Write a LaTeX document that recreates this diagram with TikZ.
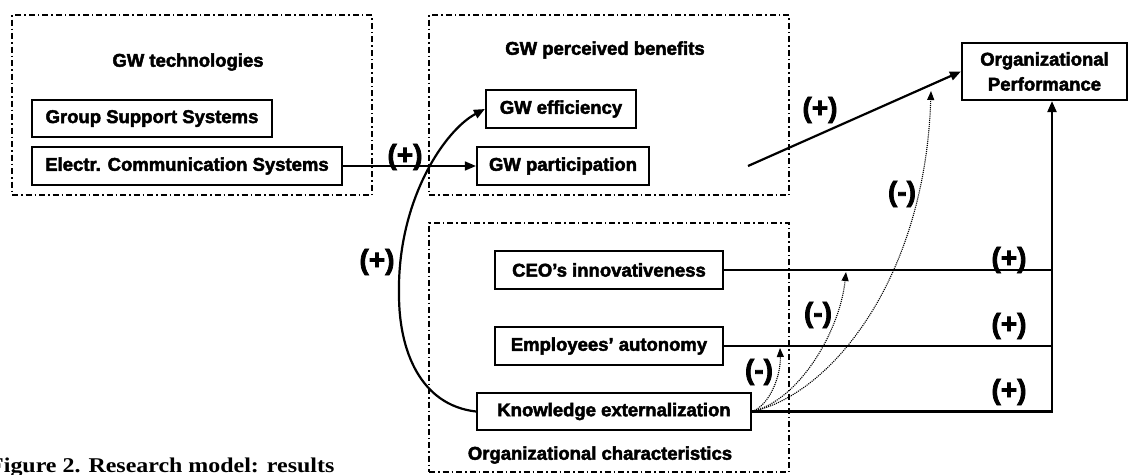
\documentclass[tikz,border=0pt]{standalone}
\usepackage{fontspec}
\setmainfont{Liberation Sans}[BoldFeatures={FakeBold=2.5}]
\newfontfamily\capfont{Liberation Serif}
\usetikzlibrary{arrows.meta}
\begin{document}
\begin{tikzpicture}[x=1pt,y=-1pt,
  box/.style={draw,line width=2.2pt,minimum height=38pt,inner sep=0pt,font=\fontsize{18.5}{20}\selectfont\bfseries},
  grp/.style={draw,line width=1.8pt,dash pattern=on 6pt off 3pt on 1.5pt off 3pt,inner sep=0pt},
  ttl/.style={font=\fontsize{18.5}{20}\selectfont\bfseries,inner sep=0pt},
  sgn/.style={font=\fontsize{28}{30}\selectfont\bfseries,inner sep=0pt},
  link/.style={line width=2.2pt},
  arr/.style={link,-{Triangle[length=11pt,width=9pt]}},
  mod/.style={line width=1.1pt,densely dotted,-{Triangle[length=9pt,width=7pt]}}]
\useasboundingbox (0,0) rectangle (1130,474);
% group frames
\node[grp,minimum width=360pt,minimum height=180pt] (gwt) at (192,105) {};
\node[grp,minimum width=360pt,minimum height=180pt] (gwb) at (609,105) {};
\node[grp,minimum width=360pt,minimum height=249pt] (oc) at (609,347.5) {};
\node[ttl] (tgwt) at (188,62) {GW technologies};
\node[ttl] (tgwb) at (605,50) {GW perceived benefits};
\node[ttl] (toc) at (600,455) {Organizational characteristics};
% boxes
\node[box,minimum width=240pt,minimum height=37pt] (gss) at (152,118.5) {Group Support Systems};
\node[box,minimum width=310pt] (ecs) at (187,166) {Electr. Communication Systems};
\node[box,minimum width=150pt] (gwe) at (561,109) {GW efficiency};
\node[box,minimum width=172pt] (gwp) at (563,166) {GW participation};
\node[box,minimum width=228pt] (ceo) at (609,270) {CEO's innovativeness};
\node[box,minimum width=228pt] (ea) at (609,346) {Employees' autonomy};
\node[box,minimum width=274pt,minimum height=37pt] (ke) at (614,411.5) {Knowledge externalization};
\node[box,minimum width=165pt,minimum height=57pt,align=center,font=\fontsize{18.5}{25}\selectfont\bfseries] (op) at (1044.5,71.5) {Organizational\\Performance};
% connectors
\draw[arr,line width=1.6pt] (ecs.east) -- (gwp.west);
\draw[arr] (ke.west) .. controls (420,405) and (399,350) .. (399,295) .. controls (397,200) and (445,130) .. (gwe.west);
\coordinate (bs) at (748,166);
\draw[arr] (bs) -- (op.west);
\coordinate (kej) at (1052,411.5);
\draw[arr] (ke.east) -- (kej) -- (kej |- op.south);
\draw[link] (ceo.east) -- (ceo.east -| kej);
\draw[link] (ea.east) -- (ea.east -| kej);
% moderating effects
\coordinate (m1) at (780,348);
\coordinate (m2) at (846,272);
\coordinate (m3) at (931,91);
\draw[mod] (ke.east) .. controls (770,405) and (781,375) .. (m1);
\draw[mod] (ke.east) .. controls (800,400) and (840,330) .. (m2);
\draw[mod] (ke.east) .. controls (830,395) and (925,280) .. (m3);
% signs
\node[sgn] (s1) at (405,157) {(+)};
\node[sgn] (s2) at (377,262) {(+)};
\node[sgn] (s3) at (820,110) {(+)};
\node[sgn] (s4) at (1009,260) {(+)};
\node[sgn] (s5) at (1009,326) {(+)};
\node[sgn] (s6) at (1009,392) {(+)};
\node[sgn] (n1) at (759,372) {(-)};
\node[sgn] (n2) at (818,315) {(-)};
\node[sgn] (n3) at (902,194) {(-)};
% caption
\node[anchor=base west,inner sep=0pt,xscale=1.14,font=\capfont\fontsize{21}{24}\selectfont\bfseries] (cap) at (-11,472) {Figure 2. Research model: results};
\end{tikzpicture}
\end{document}
